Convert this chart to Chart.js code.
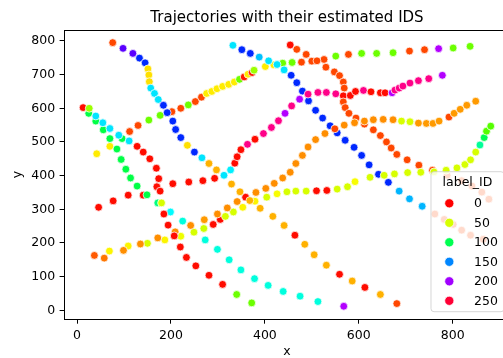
<!DOCTYPE html>
<html>
<head>
<meta charset="utf-8">
<title>Trajectories with their estimated IDS</title>
<script src="https://cdn.jsdelivr.net/npm/chart.js@4.4.0/dist/chart.umd.min.js"></script>
<style>
  html, body { margin: 0; padding: 0; background: #fff; overflow: hidden; }
  #wrap { width: 503px; height: 358px; overflow: hidden; }
  canvas { display: block; }
</style>
</head>
<body>
<div id="wrap"><canvas id="traj" width="520" height="358"></canvas></div>
<script>
// each track: [x, y, label_ID]
const trackA = [[76,795,12],[98,778,188],[119,763,188],[133,749,166],[145,735,166],[151,717,38],[153,699,38],[154,679,38],[157,660,134],[165,644,134],[173,626,134],[184,609,166],[192,587,166],[204,562,166],[210,537,166],[221,513,166],[235,490,38],[250,470,166],[266,453,134],[281,436,30],[297,417,30],[313,401,134],[329,375,30],[347,352,30],[368,326,30],[390,303,30],[417,279,30],[441,252,30],[464,223,2],[485,196,30],[505,165,30],[531,134,30],[559,107,2],[586,87,30],[613,68,2],[646,47,30],[681,20,12]];
const trackB = [[13,602,2],[26,600,60],[40,577,134],[55,557,134],[70,540,134],[89,520,134],[111,503,134],[128,487,2],[141,470,2],[155,450,2],[169,422,2],[174,391,2],[177,354,2],[180,319,50],[185,286,2],[194,253,2],[207,221,2],[220,188,2],[233,157,2],[253,132,2],[281,104,2],[310,77,2],[340,47,68],[372,22,68]];
const trackC = [[25,585,98],[40,562,98],[56,536,98],[70,510,98],[85,479,98],[94,448,98],[104,419,98],[114,393,98],[128,369,98],[149,343,98],[172,319,108],[199,292,130],[225,265,124],[273,209,124],[299,181,124],[324,150,124],[349,120,124],[378,94,124],[407,74,124],[439,56,124],[475,42,124],[513,26,124],[568,12,203]];
const trackE = [[46,306,2],[77,325,2],[109,342,2],[141,342,2],[170,367,2],[204,376,2],[238,381,2],[268,385,2],[293,392,2],[327,417,132],[336,437,2],[341,456,2],[349,477,2],[363,493,236],[379,508,2],[397,525,236],[414,543,236],[429,563,236],[443,585,203],[457,607,236],[474,627,203],[492,642,236],[513,647,236],[531,647,236],[551,643,236],[582,638,2],[593,650,2],[610,653,236],[626,649,2],[646,646,2],[656,646,2],[671,646,203],[677,654,236],[686,660,236],[694,666,236],[709,675,236],[727,682,236],[749,688,236],[778,698,203]];
const trackF = [[37,163,15],[99,178,24],[135,197,24],[172,215,24],[209,233,24],[242,252,24],[271,269,26],[299,286,24],[320,304,24],[341,323,24],[359,336,2],[381,350,24],[402,362,24],[420,377,24],[438,393,24],[454,410,24],[466,436,24],[480,460,24],[492,485,24],[508,507,24],[528,525,24],[549,539,12],[569,550,24],[591,557,24],[612,562,24],[631,566,24],[652,567,24],[673,566,24],[691,562,50],[709,560,50],[727,556,26],[744,555,26],[758,555,26],[771,562,26],[792,574,12],[803,585,26],[816,597,26],[830,609,26],[849,621,26]];
const trackG = [[58,155,20],[69,176,42],[109,191,42],[150,199,50],[187,209,42],[221,220,46],[249,232,50],[270,243,52],[290,255,2],[305,270,2],[316,279,50],[333,292,50],[353,306,42],[379,324,42],[404,336,50],[426,346,44],[447,352,50],[466,354,50],[488,354,50],[510,355,2],[532,356,2],[554,360,50],[576,367,50],[592,382,44],[624,395,50],[654,401,50],[676,405,50],[704,409,50],[732,410,50],[760,411,50],[786,416,50],[809,423,50],[826,433,50],[838,447,50],[849,470,50],[858,491,112],[867,513,100],[872,532,72],[881,547,72]];
const trackH = [[454,788,2],[468,775,12],[488,760,12],[511,741,12],[530,722,12],[548,708,12],[559,697,12],[567,678,12],[569,660,12],[567,637,2],[567,619,12],[571,602,12],[579,585,12],[594,571,12],[612,553,12],[631,536,12],[646,519,12],[659,500,12],[669,482,12],[681,463,12],[703,447,12],[728,431,12],[757,416,12],[788,401,12],[819,385,12],[841,369,12],[862,351,12],[877,330,12]];
const trackI = [[332,787,134],[351,774,166],[369,763,166],[388,752,140],[408,741,134],[426,730,134],[441,714,134],[456,698,166],[468,676,166],[480,651,166],[493,622,166],[508,594,166],[523,571,166],[539,548,166],[554,527,166],[571,505,166],[590,484,166],[606,460,166],[622,432,166],[642,404,166],[663,380,166],[686,354,142],[708,331,142],[735,309,142],[762,286,12],[782,270,12],[801,255,12],[819,238,12],[838,223,12],[865,211,12]];
const trackJ = [[42,465,40],[70,487,40],[96,510,98],[112,531,12],[130,549,12],[153,565,68],[177,579,68],[202,590,12],[221,600,12],[237,610,68],[252,620,12],[265,633,12],[276,644,40],[287,650,40],[298,658,40],[310,665,40],[323,671,40],[335,678,40],[346,686,68],[356,693,4],[364,701,40],[373,706,4],[377,713,60],[401,724,40],[419,729,40],[438,734,68],[458,736,68],[478,737,12],[500,740,12],[526,745,12],[551,755,68],[578,760,12],[606,763,68],[638,763,68],[673,765,68],[708,770,12],[740,774,12],[770,777,203],[801,779,68],[837,784,68]];

const tracks = [trackA, trackB, trackC, trackE, trackF, trackG, trackH, trackI, trackJ];
const hueTicks = [0, 50, 100, 150, 200, 250];
const hueMax = 255;
const xTicks = [0, 200, 400, 600, 800];
const yTicks = [0, 100, 200, 300, 400, 500, 600, 700, 800];

// matplotlib 'hsv' colormap segments
const segR = [[0,1],[0.15873,1],[0.174603,0.96875],[0.333333,0.03125],[0.349206,0],[0.666667,0],[0.68254,0.03125],[0.84127,0.96875],[0.857143,1],[1,1]];
const segG = [[0,0],[0.15873,0.9375],[0.174603,1],[0.507937,1],[0.666667,0.0625],[0.68254,0],[1,0]];
const segB = [[0,0],[0.333333,0],[0.349206,0.0625],[0.507937,1],[0.84127,1],[0.857143,0.9375],[1,0.09375]];

function segValue(seg, f) {
    for (let i = 1; i < seg.length; i++) {
        if (f <= seg[i][0]) {
            const [x0, y0] = seg[i - 1];
            const [x1, y1] = seg[i];
            return y0 + (y1 - y0) * (f - x0) / (x1 - x0);
        }
    }
    return seg[seg.length - 1][1];
}

function hsvColor(id) {
    const f = Math.min(Math.max(id / hueMax, 0), 1);
    const r = Math.round(segValue(segR, f) * 255);
    const g = Math.round(segValue(segG, f) * 255);
    const b = Math.round(segValue(segB, f) * 255);
    return `rgb(${r}, ${g}, ${b})`;
}

const tickFont = { family: 'DejaVu Sans', size: 12.5 };

const datasets = tracks.map(track => ({
    data: track.map(p => ({ x: p[0], y: p[1] })),
    backgroundColor: track.map(p => hsvColor(p[2])),
    borderColor: '#ffffff',
    borderWidth: 0.75,
    pointRadius: 3.9,
    pointHoverRadius: 3.9
}));

// title, top/right spines
const framePlugin = {
    id: 'frame',
    afterDraw(chart) {
        const { ctx, chartArea } = chart;
        ctx.save();
        ctx.strokeStyle = '#000';
        ctx.lineWidth = 1;
        ctx.beginPath();
        ctx.moveTo(chartArea.left, Math.round(chartArea.top) + 0.5);
        ctx.lineTo(chartArea.right, Math.round(chartArea.top) + 0.5);
        ctx.moveTo(Math.round(chartArea.right) + 0.5, chartArea.top);
        ctx.lineTo(Math.round(chartArea.right) + 0.5, chartArea.bottom);
        ctx.stroke();
        ctx.fillStyle = '#000';
        ctx.font = '15px "DejaVu Sans"';
        ctx.textAlign = 'center';
        ctx.textBaseline = 'alphabetic';
        ctx.fillText('Trajectories with their estimated IDS', (chartArea.left + chartArea.right) / 2, chartArea.top - 8);
        ctx.restore();
    }
};

// colour key for label_ID, inside the lower right corner
const hueLegend = {
    id: 'hueLegend',
    afterDraw(chart) {
        const { ctx, chartArea } = chart;
        const w = 73, h = 140;
        const x = chartArea.right - 6 - w;
        const y = chartArea.bottom - 7.6 - h;
        const r = 3;
        ctx.save();
        ctx.beginPath();
        ctx.moveTo(x + r, y);
        ctx.lineTo(x + w - r, y);
        ctx.arcTo(x + w, y, x + w, y + r, r);
        ctx.lineTo(x + w, y + h - r);
        ctx.arcTo(x + w, y + h, x + w - r, y + h, r);
        ctx.lineTo(x + r, y + h);
        ctx.arcTo(x, y + h, x, y + h - r, r);
        ctx.lineTo(x, y + r);
        ctx.arcTo(x, y, x + r, y, r);
        ctx.closePath();
        ctx.fillStyle = 'rgba(255, 255, 255, 0.8)';
        ctx.fill();
        ctx.strokeStyle = 'rgba(204, 204, 204, 0.8)';
        ctx.lineWidth = 1;
        ctx.stroke();

        ctx.fillStyle = '#000';
        ctx.font = '12.5px "DejaVu Sans"';
        ctx.textAlign = 'center';
        ctx.textBaseline = 'middle';
        ctx.fillText('label_ID', x + w / 2, y + 11.5);

        ctx.textAlign = 'left';
        hueTicks.forEach((t, i) => {
            const cy = y + 31.6 + i * 19.5;
            ctx.beginPath();
            ctx.arc(x + 18.3, cy, 4.6, 0, Math.PI * 2);
            ctx.fillStyle = hsvColor(t);
            ctx.fill();
            ctx.strokeStyle = '#fff';
            ctx.lineWidth = 0.75;
            ctx.stroke();
            ctx.fillStyle = '#000';
            ctx.fillText(String(t), x + 43, cy + 0.5);
        });
        ctx.restore();
    }
};

new Chart(document.getElementById('traj'), {
    type: 'scatter',
    data: { datasets },
    options: {
        responsive: false,
        animation: false,
        devicePixelRatio: 1,
        layout: { padding: { top: 30, right: 10, left: 0, bottom: 0 } },
        plugins: {
            legend: { display: false },
            tooltip: { enabled: false },
            title: { display: false }
        },
        scales: {
            x: {
                type: 'linear',
                min: -27.7,
                max: 922,
                afterFit: s => { s.height = 38.7; },
                afterBuildTicks: s => { s.ticks = xTicks.map(v => ({ value: v })); },
                ticks: { font: tickFont, color: '#000', padding: 5, maxRotation: 0 },
                grid: { drawOnChartArea: false, tickLength: 4.4, color: '#000', lineWidth: 1 },
                border: { color: '#000', width: 1 },
                title: { display: true, text: 'x', font: tickFont, color: '#000', padding: { top: 0, bottom: -1.5 } }
            },
            y: {
                type: 'linear',
                min: -26.7,
                max: 832.5,
                afterFit: s => { s.width = 64; },
                afterBuildTicks: s => { s.ticks = yTicks.map(v => ({ value: v })); },
                ticks: { font: tickFont, color: '#000', padding: 4.4 },
                grid: { drawOnChartArea: false, tickLength: 4.4, color: '#000', lineWidth: 1 },
                border: { color: '#000', width: 1 },
                title: { display: true, text: 'y', font: tickFont, color: '#000', padding: { top: 10, bottom: 0 } }
            }
        }
    },
    plugins: [framePlugin, hueLegend]
});
</script>
</body>
</html>
